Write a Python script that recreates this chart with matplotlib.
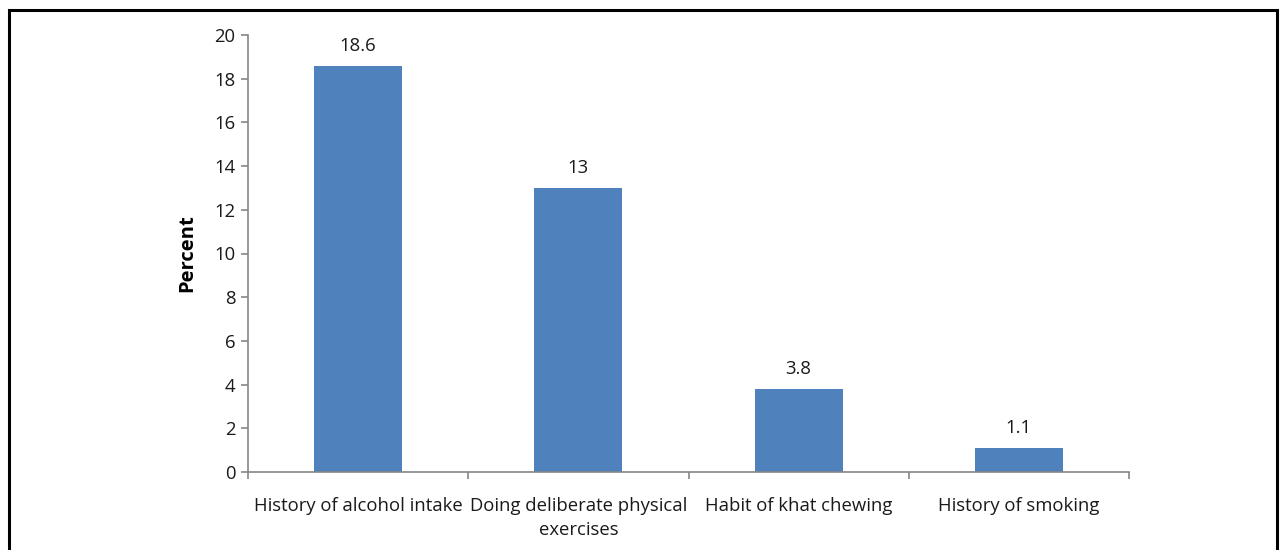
import matplotlib
matplotlib.use("Agg")
import matplotlib.pyplot as plt
from matplotlib.patches import Rectangle
from matplotlib.ticker import FixedLocator, NullFormatter

categories = ["History of alcohol intake", "Doing deliberate physical\nexercises",
              "Habit of khat chewing", "History of smoking"]
values = [18.6, 13, 3.8, 1.1]
value_labels = ["18.6", "13", "3.8", "1.1"]
yticks = [0, 2, 4, 6, 8, 10, 12, 14, 16, 18, 20]

plt.rcParams["font.family"] = ["Open Sans", "DejaVu Sans"]

fig = plt.figure(figsize=(12.84, 5.5), dpi=100)
ax = fig.add_axes([248 / 1284, 1 - 472 / 550, 881 / 1284, 437 / 550])

x = list(range(len(categories)))
ax.bar(x, values, width=0.4, color="#4F81BD")
for xi, v, lab in zip(x, values, value_labels):
    ax.text(xi, v + 0.5, lab, ha="center", va="bottom", fontsize=13.3, color="#1a1a1a")

ax.set_xlim(-0.5, len(categories) - 0.5)
ax.set_ylim(0, 20)
ax.set_yticks(yticks)
ax.set_xticks(x)
ax.set_xticklabels(categories, fontsize=13.3, color="#1a1a1a", linespacing=1.45)
ax.xaxis.set_minor_locator(FixedLocator([i - 0.5 for i in range(len(categories) + 1)]))
ax.xaxis.set_minor_formatter(NullFormatter())
ax.tick_params(axis="x", which="major", length=0, pad=18)
ax.tick_params(axis="x", which="minor", length=5, color="#868686", width=1.2)
ax.tick_params(axis="y", length=5, color="#868686", width=1.2, labelsize=13.3,
               labelcolor="#1a1a1a", pad=4)
for s in ["top", "right"]:
    ax.spines[s].set_visible(False)
for s in ["left", "bottom"]:
    ax.spines[s].set_color("#868686")
    ax.spines[s].set_linewidth(1.2)
ax.set_ylabel("Percent", fontsize=14.5, fontweight="bold", labelpad=12)

fig.patches.append(Rectangle((9 / 1284, -0.05), 1268 / 1284, 1.05 - 10 / 550,
                             transform=fig.transFigure, fill=False,
                             edgecolor="black", linewidth=2.2))

fig.savefig("out.png", dpi=100)
